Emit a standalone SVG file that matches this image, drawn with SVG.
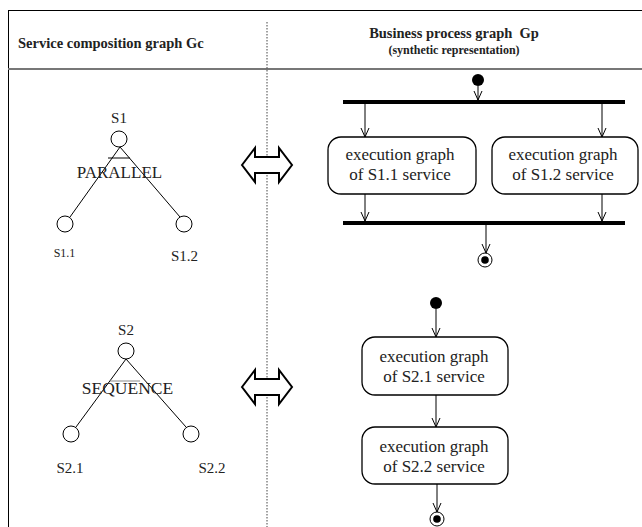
<svg xmlns="http://www.w3.org/2000/svg" width="642" height="527" viewBox="0 0 642 527">
  <style>
    text { font-family: "Liberation Serif", "Times New Roman", serif; fill: #222; }
    .hdr { font-weight: bold; }
    .edge { stroke: #000; stroke-width: 1; fill: none; }
    .conn { stroke: #000; stroke-width: 1; fill: none; marker-end: url(#vee); }
    .svc { fill: #fff; stroke: #000; stroke-width: 1; }
    .act { fill: #fff; stroke: #000; stroke-width: 1.3; }
    .bar { fill: #000; }
    .dbl { fill: #fff; stroke: #000; stroke-width: 2; stroke-linejoin: miter; }
  </style>
  <defs>
    <marker id="vee" markerUnits="userSpaceOnUse" markerWidth="10" markerHeight="10" refX="9" refY="4" orient="auto" viewBox="0 0 10 8">
      <path d="M0,0 L9,4 L0,8" fill="none" stroke="#000" stroke-width="1"/>
    </marker>
    <polygon id="dblarrow" class="dbl" points="242,165 255,148 255,157 279,157 279,148 292,165 279,182 279,173 255,173 255,182"/>
  </defs>

  <rect width="642" height="527" fill="#fff"/>

  <!-- table frame -->
  <g id="frame">
    <line x1="8" y1="10.5" x2="642" y2="10.5" stroke="#000" stroke-width="1"/>
    <line x1="8.5" y1="10" x2="8.5" y2="527" stroke="#000" stroke-width="1"/>
    <line x1="8" y1="69" x2="642" y2="69" stroke="#777" stroke-width="2"/>
    <line x1="267" y1="22" x2="267" y2="527" stroke="#444" stroke-width="1" stroke-dasharray="1.5,1.5"/>
  </g>

  <!-- column headings -->
  <g id="headings">
    <text class="hdr" x="18" y="48" font-size="14.5">Service composition graph Gc</text>
    <text class="hdr" x="454" y="38" font-size="14.5" text-anchor="middle" xml:space="preserve">Business process graph  Gp</text>
    <text class="hdr" x="454" y="54" font-size="12" text-anchor="middle">(synthetic representation)</text>
  </g>

  <!-- composition tree: parallel -->
  <g id="tree-parallel">
    <g class="edge">
      <line x1="120" y1="147" x2="70" y2="217"/>
      <line x1="120" y1="147" x2="180" y2="217"/>
      <line x1="108" y1="158" x2="130" y2="158"/>
    </g>
    <g id="S1">
      <circle class="svc" cx="119" cy="139" r="8"/>
      <text x="119" y="123" font-size="15" text-anchor="middle">S1</text>
    </g>
    <g id="S1.1">
      <circle class="svc" cx="65" cy="224" r="8"/>
      <text x="64.5" y="257" font-size="12" text-anchor="middle">S1.1</text>
    </g>
    <g id="S1.2">
      <circle class="svc" cx="184" cy="224" r="8"/>
      <text x="184.5" y="261" font-size="15" text-anchor="middle">S1.2</text>
    </g>
    <text x="119.5" y="178" font-size="17" text-anchor="middle">PARALLEL</text>
  </g>

  <!-- composition tree: sequence -->
  <g id="tree-sequence">
    <g class="edge">
      <line x1="126" y1="359" x2="76" y2="427"/>
      <line x1="126" y1="359" x2="186" y2="427"/>
      <line x1="110" y1="381" x2="140" y2="381" stroke="#888"/>
    </g>
    <g id="S2">
      <circle class="svc" cx="126" cy="351" r="8"/>
      <text x="126" y="335" font-size="15" text-anchor="middle">S2</text>
    </g>
    <g id="S2.1">
      <circle class="svc" cx="71" cy="434" r="8"/>
      <text x="70" y="473" font-size="15" text-anchor="middle">S2.1</text>
    </g>
    <g id="S2.2">
      <circle class="svc" cx="191" cy="434" r="8"/>
      <text x="212" y="473" font-size="15" text-anchor="middle">S2.2</text>
    </g>
    <text x="127.5" y="394" font-size="17.5" text-anchor="middle">SEQUENCE</text>
  </g>

  <!-- equivalence arrows -->
  <g id="equiv-1"><use href="#dblarrow"/></g>
  <g id="equiv-2"><use href="#dblarrow" transform="translate(0,222)"/></g>

  <!-- process graph: parallel -->
  <g id="p-start"><circle cx="478" cy="80" r="6" fill="#000"/></g>
  <g id="p-fork"><rect class="bar" x="343" y="100" width="282" height="4"/></g>
  <g id="p-exec-s11">
    <rect class="act" x="328" y="137" width="148" height="57" rx="13"/>
    <text x="400" y="160" font-size="17" text-anchor="middle">execution graph</text>
    <text x="400" y="180" font-size="17" text-anchor="middle">of S1.1 service</text>
  </g>
  <g id="p-exec-s12">
    <rect class="act" x="492" y="137" width="146" height="57" rx="13"/>
    <text x="563" y="160" font-size="17" text-anchor="middle">execution graph</text>
    <text x="563" y="180" font-size="17" text-anchor="middle">of S1.2 service</text>
  </g>
  <g id="p-join"><rect class="bar" x="343" y="221" width="282" height="4"/></g>
  <g id="p-end">
    <circle cx="485" cy="260" r="7" fill="#fff" stroke="#000" stroke-width="1"/>
    <circle cx="485" cy="260" r="3.8" fill="#000"/>
  </g>

  <!-- process graph: sequence -->
  <g id="q-start"><circle cx="436" cy="303" r="6" fill="#000"/></g>
  <g id="q-exec-s21">
    <rect class="act" x="362" y="337" width="146" height="58" rx="13"/>
    <text x="434" y="362" font-size="17" text-anchor="middle">execution graph</text>
    <text x="434" y="382" font-size="17" text-anchor="middle">of S2.1 service</text>
  </g>
  <g id="q-exec-s22">
    <rect class="act" x="362" y="427" width="146" height="57" rx="13"/>
    <text x="434" y="452" font-size="17" text-anchor="middle">execution graph</text>
    <text x="434" y="472" font-size="17" text-anchor="middle">of S2.2 service</text>
  </g>
  <g id="q-end">
    <circle cx="437" cy="519" r="7" fill="#fff" stroke="#000" stroke-width="1"/>
    <circle cx="437" cy="519" r="3.8" fill="#000"/>
  </g>

  <!-- connectors -->
  <g id="connectors">
    <line class="conn" x1="478" y1="86" x2="478" y2="100"/>
    <line class="conn" x1="365" y1="104" x2="365" y2="137"/>
    <line class="conn" x1="602" y1="104" x2="602" y2="137"/>
    <line class="conn" x1="365" y1="194" x2="365" y2="221"/>
    <line class="conn" x1="602" y1="194" x2="602" y2="221"/>
    <line class="conn" x1="486" y1="225" x2="486" y2="253"/>
    <line class="conn" x1="436" y1="309" x2="436" y2="337"/>
    <line class="conn" x1="436" y1="395" x2="436" y2="427"/>
    <line class="conn" x1="437" y1="484" x2="437" y2="512"/>
  </g>
</svg>
